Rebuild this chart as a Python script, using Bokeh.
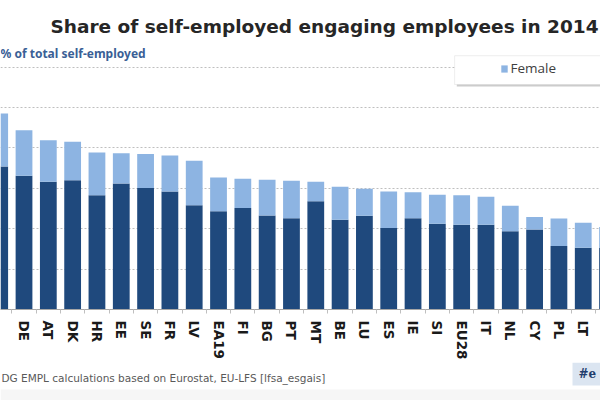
from bokeh.plotting import figure
from bokeh.layouts import column
from bokeh.models import (Range1d, FixedTicker, Label, Legend, LegendItem,
                          BoxAnnotation, ColumnDataSource)
from bokeh.embed import file_html
from bokeh.resources import INLINE

# ---- data ----
countries = ["HU", "DE", "AT", "DK", "HR", "EE", "SE", "FR", "LV", "EA19",
             "FI", "BG", "PT", "MT", "BE", "LU", "ES", "IE", "SI", "EU28",
             "IT", "NL", "CY", "PL", "LT", ""]
male = [35.4, 33.1, 31.6, 32.0, 28.3, 31.2, 30.1, 29.2, 25.8, 24.3,
        25.1, 23.3, 22.6, 26.8, 22.2, 23.2, 20.2, 22.6, 21.2, 21.0,
        21.0, 19.4, 19.8, 15.7, 15.3, 15.2]
female = [13.1, 11.3, 10.3, 9.5, 10.6, 7.5, 8.4, 8.9, 11.0, 8.4,
          7.3, 8.8, 9.3, 4.8, 8.2, 6.7, 9.0, 6.4, 7.2, 7.3,
          6.9, 6.3, 3.1, 6.8, 6.2, 5.2]
series = ["Male", "Female"]
y_ticks = [10, 20, 30, 40, 50, 60]

TITLE = "Share of self-employed engaging employees in 2014"
Y_LABEL = "% of total self-employed"
SOURCE = "DG EMPL calculations based on Eurostat, EU-LFS [lfsa_esgais]"
TAG = "#e"

DARK = "#1f497d"
LIGHT = "#8db4e2"
W = 600


def blank(height, y_top, y_bottom):
    f = figure(width=W, height=height, output_backend="svg",
               toolbar_location=None, x_range=Range1d(0, W),
               y_range=Range1d(y_bottom, y_top), min_border=0,
               outline_line_color=None, background_fill_color="white",
               border_fill_color="white")
    f.axis.visible = False
    f.grid.visible = False
    return f


# ---- header (title) ----
head = blank(45, 0, 45)
head.add_layout(Label(x=50, y=26, text=TITLE, text_font="DejaVu Sans",
                      text_font_style="bold", text_font_size="18.5px",
                      text_color="#262626", text_baseline="alphabetic"))

# ---- main chart ----
pos = list(range(len(countries)))
source = ColumnDataSource(dict(x=pos, Male=male, Female=female))

p = figure(width=W, height=317, output_backend="svg", toolbar_location=None,
           x_range=Range1d(0.033, 24.71), y_range=Range1d(0, 65.36),
           min_border_left=0, min_border_right=0, min_border_top=0,
           min_border_bottom=51, outline_line_color=None,
           background_fill_color="white", border_fill_color="white")

renderers = p.vbar_stack(series, x="x", width=0.69, source=source,
                         color=[DARK, LIGHT], line_color=None)

p.yaxis.visible = False
p.xaxis.ticker = FixedTicker(ticks=pos, minor_ticks=[i + 0.5 for i in pos])
p.xaxis.major_label_overrides = {i: c for i, c in enumerate(countries)}
p.xaxis.major_label_orientation = "vertical"
p.xaxis.major_label_text_font = "DejaVu Sans"
p.xaxis.major_label_text_font_style = "bold"
p.xaxis.major_label_text_font_size = "13.5px"
p.xaxis.major_label_text_color = "#1a1a1a"
p.xaxis.major_label_standoff = 7
p.xaxis.major_tick_out = 0
p.xaxis.major_tick_in = 0
p.xaxis.minor_tick_out = 4
p.xaxis.minor_tick_in = 0
p.xaxis.minor_tick_line_color = "#bfbfbf"
p.xaxis.axis_line_color = "#a6a6a6"

p.xgrid.visible = False
p.ygrid.ticker = FixedTicker(ticks=y_ticks)
p.ygrid.grid_line_color = "#bfbfbf"
p.ygrid.grid_line_dash = "2 2"
p.ygrid.grid_line_width = 1

# legend frame with a slight shadow
p.add_layout(BoxAnnotation(left=18.80, top=62.3, bottom=55.2,
                           fill_color="#9a9a9a", fill_alpha=0.5,
                           line_color=None))
p.add_layout(BoxAnnotation(left=18.71, top=62.83, bottom=55.7,
                           fill_color="white", fill_alpha=1.0,
                           line_color="#c8c8c8", line_width=1))

legend = Legend(items=[LegendItem(label="Female", renderers=[renderers[1]])],
                location=(499.5, 232), orientation="horizontal",
                padding=0, margin=0, spacing=0,
                glyph_width=8, glyph_height=9, label_height=9,
                label_standoff=3, label_text_font="Open Sans",
                label_text_font_size="13.5px", label_text_color="#404040",
                background_fill_alpha=0, border_line_alpha=0)
p.add_layout(legend)

p.add_layout(Label(x=0, y=256, x_units="screen", y_units="screen",
                   text=Y_LABEL, text_font="Noto Sans",
                   text_font_style="bold", text_font_size="12px",
                   text_color="#3a5f96", text_baseline="middle"))

# ---- footer (source and tag) ----
foot = blank(38, 362, 400)
foot.add_layout(BoxAnnotation(left=0, right=W, top=389, bottom=400,
                              fill_color="#f6f6f6", fill_alpha=1.0,
                              line_color=None))
foot.add_layout(BoxAnnotation(left=572, right=W, top=362, bottom=385,
                              fill_color="#dbe5f1", fill_alpha=1.0,
                              line_color=None))
foot.add_layout(Label(x=1, y=377, text=SOURCE, text_font="DejaVu Sans",
                      text_font_size="10.5px", text_color="#595959",
                      text_baseline="middle"))
foot.add_layout(Label(x=578, y=373, text=TAG, text_font="DejaVu Serif",
                      text_font_style="bold", text_font_size="12px",
                      text_color="#1f3d6d", text_baseline="middle"))

layout = column(head, p, foot, spacing=0)
open("out.html", "w").write(file_html(layout, INLINE))
